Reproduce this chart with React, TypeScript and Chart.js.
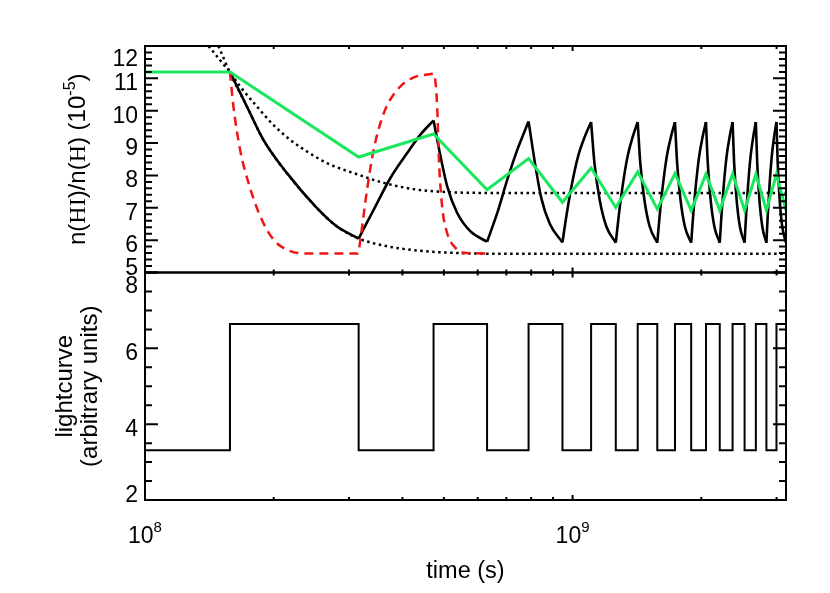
import React, { useEffect, useRef } from 'react';
import { Chart, registerables } from 'chart.js';

Chart.register(...registerables);

// ---------------- data ----------------
const timeRange = [1e8, 3.156e9];
const topRange = [5, 12];
const bottomRange = [2, 8];

const xMajorTicks = [1e8, 1e9];
const xMinorTicks = [2e8, 3e8, 4e8, 5e8, 6e8, 7e8, 8e8, 9e8, 2e9, 3e9];
const xTickExponents = ['8', '9'];
const topMajorTicks = [5, 6, 7, 8, 9, 10, 11, 12];
const bottomMajorTicks = [2, 4, 6, 8];

// lightcurve (step function): value after each time
const lightTime = [1.0e8, 1.58e8, 3.16e8, 4.73e8, 6.31e8, 7.89e8, 9.47e8, 1.105e9, 1.262e9, 1.42e9, 1.578e9,
  1.736e9, 1.894e9, 2.051e9, 2.209e9, 2.367e9, 2.525e9, 2.683e9, 2.84e9, 2.998e9, 3.156e9];
const lightValue = [3.31, 6.64, 3.31, 6.64, 3.31, 6.64, 3.31, 6.64, 3.31, 6.64, 3.31,
  6.64, 3.31, 6.64, 3.31, 6.64, 3.31, 6.64, 3.31, 6.64, 6.64];

// green: time-averaged curve
const greenTime = [1.0e8, 1.58e8, 3.16e8, 4.73e8, 6.31e8, 7.89e8, 9.47e8, 1.105e9, 1.262e9, 1.42e9, 1.578e9,
  1.736e9, 1.894e9, 2.051e9, 2.209e9, 2.367e9, 2.525e9, 2.683e9, 2.84e9, 2.998e9, 3.156e9];
const greenValue = [11.2, 11.2, 8.57, 9.28, 7.56, 8.52, 7.17, 8.23, 7.01, 8.11, 6.96,
  8.06, 6.92, 8.04, 6.92, 8.04, 6.92, 8.04, 6.92, 8.04, 6.92];

// black solid: n(HI)/n(H)
const blackTime = [
  1.58e8, 1.731e8, 1.892e8, 2.148e8, 2.525e8, 2.813e8, 3.16e8,
  3.426e8, 3.749e8, 4.103e8, 4.407e8, 4.73e8,
  4.91e8, 5.091e8, 5.372e8, 5.771e8, 6.31e8,
  6.666e8, 7.036e8, 7.424e8, 7.694e8, 7.89e8,
  8.19e8, 8.45e8, 8.85e8, 9.47e8,
  9.67e8, 9.94e8, 1.03e9, 1.068e9, 1.105e9,
  1.125e9, 1.157e9, 1.199e9, 1.262e9,
  1.282e9, 1.309e9, 1.345e9, 1.383e9, 1.42e9,
  1.44e9, 1.472e9, 1.514e9, 1.578e9,
  1.598e9, 1.625e9, 1.661e9, 1.699e9, 1.736e9,
  1.756e9, 1.788e9, 1.83e9, 1.894e9,
  1.914e9, 1.941e9, 1.977e9, 2.015e9, 2.051e9,
  2.071e9, 2.103e9, 2.145e9, 2.209e9,
  2.229e9, 2.256e9, 2.292e9, 2.33e9, 2.367e9,
  2.387e9, 2.419e9, 2.461e9, 2.525e9,
  2.545e9, 2.572e9, 2.608e9, 2.646e9, 2.683e9,
  2.703e9, 2.735e9, 2.777e9, 2.84e9,
  2.86e9, 2.887e9, 2.923e9, 2.961e9, 2.998e9,
  3.018e9, 3.05e9, 3.092e9, 3.156e9,
];
const blackValue = [
  11.2, 10.13, 9.1, 8.07, 6.99, 6.42, 6.05,
  6.94, 7.92, 8.69, 9.26, 9.7,
  8.59, 7.66, 6.84, 6.27, 5.95,
  6.84, 7.87, 8.79, 9.31, 9.67,
  8.28, 7.3, 6.5, 5.93,
  6.74, 7.66, 8.59, 9.2, 9.65,
  8.38, 7.25, 6.43, 5.92,
  6.74, 7.66, 8.59, 9.2, 9.65,
  8.38, 7.25, 6.43, 5.92,
  6.74, 7.66, 8.59, 9.2, 9.65,
  8.38, 7.25, 6.43, 5.92,
  6.74, 7.66, 8.59, 9.2, 9.65,
  8.38, 7.25, 6.43, 5.92,
  6.74, 7.66, 8.59, 9.2, 9.65,
  8.38, 7.25, 6.43, 5.92,
  6.74, 7.66, 8.59, 9.2, 9.65,
  8.38, 7.25, 6.43, 5.92,
  6.74, 7.66, 8.59, 9.2, 9.65,
  8.38, 7.25, 6.43, 5.92,
];

// red dashed: instantaneous equilibrium response
const redTime = [1.58e8, 1.61e8, 1.669e8, 1.746e8, 1.86e8, 1.997e8, 2.186e8, 2.392e8, 3.15e8,
  3.189e8, 3.306e8, 3.426e8, 3.617e8, 3.887e8, 4.252e8, 4.695e8, 4.73e8,
  4.823e8, 4.865e8, 4.954e8, 5.089e8, 5.323e8, 5.565e8, 6.315e8];
const redValue = [11.2, 10.13, 8.79, 7.77, 6.74, 6.02, 5.66, 5.59, 5.59,
  6.02, 7.56, 8.79, 9.92, 10.64, 11.03, 11.14, 11.15,
  10.13, 8.59, 7.04, 6.22, 5.76, 5.61, 5.59];

// dotted envelopes
const upperDotTime = [1.408e8, 1.58e8, 1.669e8, 1.827e8, 1.997e8, 2.186e8, 2.392e8, 2.665e8, 3.16e8,
  3.617e8, 4.33e8, 5.181e8, 6.43e8, 3.156e9];
const upperDotValue = [12.0, 11.18, 10.75, 10.13, 9.56, 9.1, 8.74, 8.38, 8.02,
  7.77, 7.56, 7.48, 7.46, 7.46];
const lowerDotTime = [1.485e8, 1.58e8, 1.731e8, 1.892e8, 2.148e8, 2.525e8, 2.813e8, 3.16e8,
  3.684e8, 4.33e8, 5.181e8, 6.786e8, 3.156e9];
const lowerDotValue = [12.0, 11.18, 10.13, 9.1, 8.07, 6.99, 6.42, 6.05,
  5.81, 5.68, 5.61, 5.58, 5.58];

// ---------------- helpers ----------------
const SANS = '"Liberation Sans", Arial, Helvetica, sans-serif';
const SERIF = '"Liberation Serif", "Times New Roman", serif';

const pts = (xs: number[], ys: number[]) => xs.map((x, i) => ({ x, y: ys[i] }));

// split the black curve into its rise/decay pieces at the lightcurve switch times
function splitAtSwitches(xs: number[], ys: number[], switches: number[]) {
  const out: { x: number; y: number }[][] = [];
  let cur: { x: number; y: number }[] = [];
  xs.forEach((x, i) => {
    const p = { x, y: ys[i] };
    cur.push(p);
    const isSwitch = switches.some((s) => Math.abs(s - x) / s < 1e-6);
    if (i > 0 && i < xs.length - 1 && isSwitch) {
      out.push(cur);
      cur = [p];
    }
  });
  out.push(cur);
  return out;
}

type Seg = { t: string; f: string; rise?: number };

function drawSegs(ctx: CanvasRenderingContext2D, segs: Seg[], cx: number, base: number) {
  let total = 0;
  for (const s of segs) { ctx.font = s.f; total += ctx.measureText(s.t).width; }
  let x = cx - total / 2;
  ctx.textAlign = 'left';
  ctx.textBaseline = 'alphabetic';
  for (const s of segs) {
    ctx.font = s.f;
    ctx.fillText(s.t, x, base - (s.rise || 0));
    x += ctx.measureText(s.t).width;
  }
}

function drawRotated(ctx: CanvasRenderingContext2D, segs: Seg[], cy: number, baseX: number) {
  ctx.save();
  ctx.translate(0, cy);
  ctx.rotate(-Math.PI / 2);
  drawSegs(ctx, segs, 0, baseX);
  ctx.restore();
}

function minorTicks(lo: number, hi: number, step: number, majors: number[]) {
  const out: number[] = [];
  const n = Math.round((hi - lo) / step);
  for (let k = 0; k <= n; k++) {
    const v = lo + k * step;
    if (!majors.some((m) => Math.abs(m - v) < 1e-6)) out.push(v);
  }
  return out;
}

function panelPlugin(name: string, major: number[], minor: number[], extra: (chart: any) => void) {
  return {
    id: 'panel-' + name,
    afterDraw(chart: any) {
      const { ctx, chartArea: a } = chart;
      const xs = chart.scales.x;
      const ys = chart.scales.y;
      ctx.save();
      ctx.strokeStyle = '#000';
      ctx.lineWidth = 2;
      ctx.lineCap = 'butt';
      ctx.strokeRect(a.left, a.top, a.right - a.left, a.bottom - a.top);
      ctx.beginPath();
      const xt = (v: number, len: number) => {
        const px = xs.getPixelForValue(v);
        ctx.moveTo(px, a.top); ctx.lineTo(px, a.top + len);
        ctx.moveTo(px, a.bottom); ctx.lineTo(px, a.bottom - len);
      };
      xMajorTicks.forEach((v) => xt(v, 5));
      xMinorTicks.forEach((v) => xt(v, 3));
      const yt = (v: number, len: number) => {
        const py = ys.getPixelForValue(v);
        ctx.moveTo(a.left, py); ctx.lineTo(a.left + len, py);
        ctx.moveTo(a.right, py); ctx.lineTo(a.right - len, py);
      };
      major.forEach((v) => yt(v, 13));
      minor.forEach((v) => yt(v, 7));
      ctx.stroke();

      ctx.fillStyle = '#000';
      ctx.font = `23px ${SANS}`;
      ctx.textAlign = 'right';
      ctx.textBaseline = 'alphabetic';
      major.forEach((v) => {
        const py = ys.getPixelForValue(v);
        let c = py + 4;
        if (Math.abs(py - a.top) < 1) c = py + 12;
        else if (Math.abs(py - a.bottom) < 1) c = py - 6;
        ctx.fillText(String(v), a.left - 7, c + 8);
      });
      extra(chart);
      ctx.restore();
    },
  };
}

const baseOptions = (yr: number[], padding: any) => ({
  responsive: false,
  animation: false as const,
  events: [] as any[],
  layout: { padding },
  plugins: { legend: { display: false }, tooltip: { enabled: false }, title: { display: false } },
  elements: { point: { radius: 0 }, line: { tension: 0, borderCapStyle: 'butt' as const } },
  scales: {
    x: { type: 'logarithmic' as const, min: timeRange[0], max: timeRange[1], display: false },
    y: { type: 'linear' as const, min: yr[0], max: yr[1], display: false },
  },
});

export default function App() {
  const topRef = useRef<HTMLCanvasElement>(null);
  const botRef = useRef<HTMLCanvasElement>(null);

  useEffect(() => {
    const topMinor = minorTicks(topRange[0], topRange[1], 0.2, topMajorTicks);
    const botMinor = minorTicks(bottomRange[0], bottomRange[1], 0.5, bottomMajorTicks);
    const blackPieces = splitAtSwitches(blackTime, blackValue, lightTime.slice(1));

    const topChart = new Chart(topRef.current as HTMLCanvasElement, {
      type: 'line',
      data: {
        datasets: [
          { data: pts(greenTime, greenValue), borderColor: 'rgb(25,232,95)', borderWidth: 3 },
          {
            data: pts(redTime, redValue), borderColor: 'rgb(240,20,20)', borderWidth: 2.5,
            borderDash: [9, 6], cubicInterpolationMode: 'monotone',
          },
          ...blackPieces.map((piece) => ({
            data: piece, borderColor: '#000', borderWidth: 2.6, cubicInterpolationMode: 'monotone',
          })),
          {
            data: pts(upperDotTime, upperDotValue), borderColor: '#000', borderWidth: 2.5,
            borderDash: [2.5, 3.5], cubicInterpolationMode: 'monotone',
          },
          {
            data: pts(lowerDotTime, lowerDotValue), borderColor: '#000', borderWidth: 2.5,
            borderDash: [2.5, 3.5], cubicInterpolationMode: 'monotone',
          },
        ] as any,
      },
      options: baseOptions(topRange, { left: 145, right: 44, top: 46, bottom: 320.5 }) as any,
      plugins: [
        panelPlugin('top', topMajorTicks, topMinor, (chart) => {
          const ctx = chart.ctx as CanvasRenderingContext2D;
          const a = chart.chartArea;
          const f = `24px ${SANS}`;
          const fs = `24px ${SERIF}`;
          const fsup = `16px ${SANS}`;
          drawRotated(ctx, [
            { t: 'n(', f }, { t: 'HI', f: fs }, { t: ')/n(', f }, { t: 'H', f: fs },
            { t: ') (10', f }, { t: '-5', f: fsup, rise: 10 }, { t: ')', f },
          ], (a.top + a.bottom) / 2, 85);
        }),
      ],
    });

    const botChart = new Chart(botRef.current as HTMLCanvasElement, {
      type: 'line',
      data: {
        datasets: [
          { data: pts(lightTime, lightValue), borderColor: '#000', borderWidth: 2, stepped: 'before' },
        ] as any,
      },
      options: baseOptions(bottomRange, { left: 145, right: 44, top: 272.5, bottom: 93 }) as any,
      plugins: [
        panelPlugin('bottom', bottomMajorTicks, botMinor, (chart) => {
          const ctx = chart.ctx as CanvasRenderingContext2D;
          const a = chart.chartArea;
          const xs = chart.scales.x;
          xMajorTicks.forEach((v, i) => {
            drawSegs(ctx, [
              { t: '10', f: `23px ${SANS}` },
              { t: xTickExponents[i], f: `15px ${SANS}`, rise: 11 },
            ], xs.getPixelForValue(v), 543);
          });
          drawSegs(ctx, [{ t: 'time (s)', f: `23.5px ${SANS}` }], (a.left + a.right) / 2, 578);
          const cy = (a.top + a.bottom) / 2;
          drawRotated(ctx, [{ t: 'lightcurve', f: `24px ${SANS}` }], cy, 72);
          drawRotated(ctx, [{ t: '(arbitrary units)', f: `24px ${SANS}` }], cy, 97);
        }),
      ],
    });

    return () => {
      topChart.destroy();
      botChart.destroy();
    };
  }, []);

  return (
    <div style={{ position: 'absolute', left: 0, top: 0, width: 830, height: 593, background: '#fff' }}>
      <canvas ref={topRef} width={830} height={593} style={{ position: 'absolute', left: 0, top: 0 }} />
      <canvas ref={botRef} width={830} height={593} style={{ position: 'absolute', left: 0, top: 0 }} />
    </div>
  );
}
